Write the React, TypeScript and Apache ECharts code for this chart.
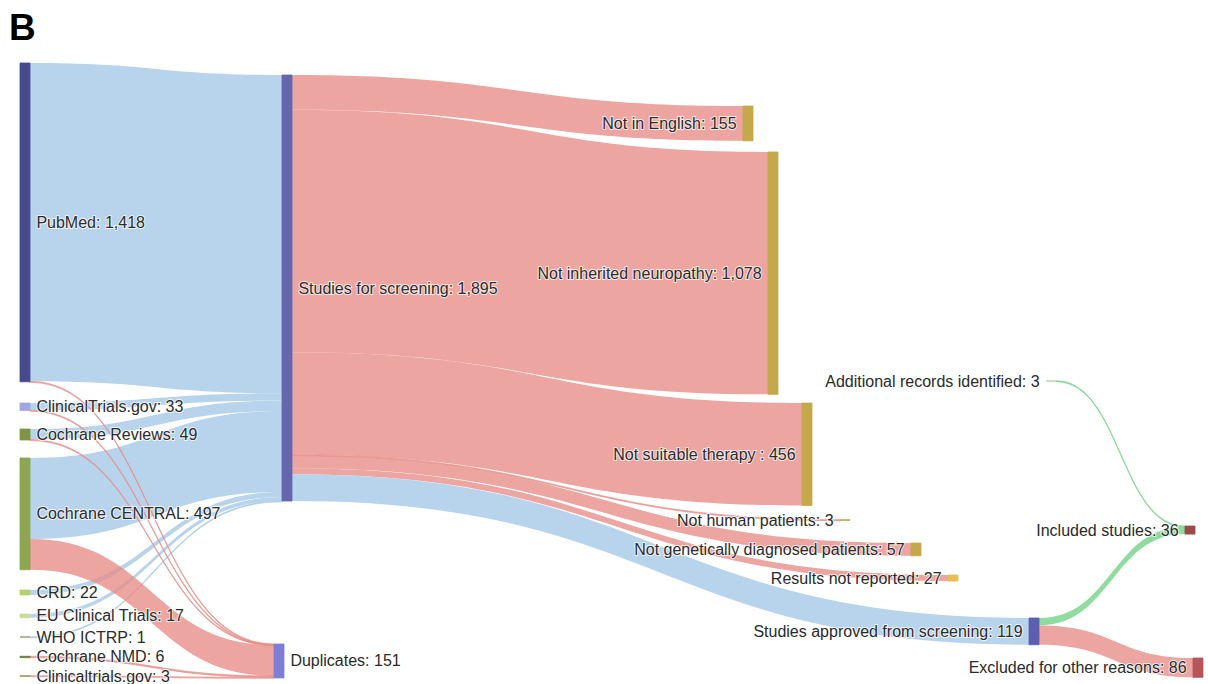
import React, { useEffect, useRef } from "react";
import * as echarts from "echarts";

// ---- data ----
const nodeNames = [
  "PubMed",
  "ClinicalTrials.gov",
  "Cochrane Reviews",
  "Cochrane CENTRAL",
  "CRD",
  "EU Clinical Trials",
  "WHO ICTRP",
  "Cochrane NMD",
  "Clinicaltrials.gov",
  "Studies for screening",
  "Duplicates",
  "Not in English",
  "Not inherited neuropathy",
  "Not suitable therapy ",
  "Not human patients",
  "Not genetically diagnosed patients",
  "Results not reported",
  "Additional records identified",
  "Studies approved from screening",
  "Included studies",
  "Excluded for other reasons",
];

const linkSources = [
  "PubMed", "ClinicalTrials.gov", "Cochrane Reviews", "Cochrane CENTRAL", "CRD", "EU Clinical Trials", "WHO ICTRP",
  "PubMed", "ClinicalTrials.gov", "Cochrane Reviews", "Cochrane CENTRAL", "Cochrane NMD", "Clinicaltrials.gov",
  "Studies for screening", "Studies for screening", "Studies for screening", "Studies for screening",
  "Studies for screening", "Studies for screening", "Studies for screening",
  "Studies approved from screening", "Studies approved from screening",
  "Additional records identified",
];
const linkTargets = [
  "Studies for screening", "Studies for screening", "Studies for screening", "Studies for screening",
  "Studies for screening", "Studies for screening", "Studies for screening",
  "Duplicates", "Duplicates", "Duplicates", "Duplicates", "Duplicates", "Duplicates",
  "Not in English", "Not inherited neuropathy", "Not suitable therapy ", "Not human patients",
  "Not genetically diagnosed patients", "Results not reported", "Studies approved from screening",
  "Included studies", "Excluded for other reasons",
  "Included studies",
];
const linkValues = [
  1416, 32, 47, 360, 22, 17, 1,
  2, 1, 2, 137, 6, 3,
  155, 1078, 456, 3, 57, 27, 119,
  33, 86,
  3,
];
const linkKinds = [
  "pass", "pass", "pass", "pass", "pass", "pass", "pass",
  "drop", "drop", "drop", "drop", "drop", "drop",
  "drop", "drop", "drop", "drop", "drop", "drop", "pass",
  "keep", "drop",
  "keep",
];

// ---- layout / style (not data) ----
const nodeLayout: Record<string, { depth: number; x: number; y: number; side: "left" | "right"; color: string }> = {
  "PubMed": { depth: 0, x: 20, y: 63, side: "right", color: "#474a8a" },
  "ClinicalTrials.gov": { depth: 0, x: 20, y: 403, side: "right", color: "#a3a5e0" },
  "Cochrane Reviews": { depth: 0, x: 20, y: 429, side: "right", color: "#7f9447" },
  "Cochrane CENTRAL": { depth: 0, x: 20, y: 458, side: "right", color: "#8ea552" },
  "CRD": { depth: 0, x: 20, y: 590, side: "right", color: "#b5cf6b" },
  "EU Clinical Trials": { depth: 0, x: 20, y: 614, side: "right", color: "#cedb9c" },
  "WHO ICTRP": { depth: 0, x: 20, y: 636.9, side: "right", color: "#a8916a" },
  "Cochrane NMD": { depth: 0, x: 20, y: 656.3, side: "right", color: "#637939" },
  "Clinicaltrials.gov": { depth: 0, x: 20, y: 675.7, side: "right", color: "#8ca252" },
  "Studies for screening": { depth: 1, x: 282, y: 75, side: "right", color: "#6466ae" },
  "Duplicates": { depth: 1, x: 274, y: 644, side: "right", color: "#7d7fd6" },
  "Not in English": { depth: 2, x: 743, y: 106, side: "left", color: "#c4a84a" },
  "Not inherited neuropathy": { depth: 2, x: 768, y: 152, side: "left", color: "#c4a84a" },
  "Not suitable therapy ": { depth: 2, x: 802, y: 403, side: "left", color: "#c4a84a" },
  "Not human patients": { depth: 2, x: 840, y: 519.7, side: "left", color: "#c4a84a" },
  "Not genetically diagnosed patients": { depth: 2, x: 911, y: 543, side: "left", color: "#c4a84a" },
  "Results not reported": { depth: 2, x: 948, y: 575, side: "left", color: "#e8bd55" },
  "Additional records identified": { depth: 2, x: 1046, y: 380.7, side: "left", color: "#b5dcb9" },
  "Studies approved from screening": { depth: 2, x: 1029, y: 618, side: "left", color: "#5c5fb0" },
  "Included studies": { depth: 3, x: 1185, y: 526, side: "left", color: "#9b4a4a" },
  "Excluded for other reasons": { depth: 3, x: 1193, y: 658, side: "left", color: "#b5565a" },
};

const kindColors: Record<string, string> = {
  pass: "#a6c9e7",
  drop: "#e78e88",
  keep: "#74d388",
};

const W = 1208;
const H = 684;

export default function App() {
  const ref = useRef<HTMLDivElement>(null);
  useEffect(() => {
    if (!ref.current) return;
    const chart = echarts.init(ref.current, undefined, { renderer: "svg" });
    const fmt = (v: number) => v.toLocaleString("en-US");
    const nodes = nodeNames.map((name) => {
      const l = nodeLayout[name];
      return {
        name,
        depth: l.depth,
        localX: l.x / W,
        localY: l.y / H,
        itemStyle: { color: l.color, borderWidth: 0.8, borderColor: l.color },
        label: { position: l.side },
      };
    });
    const links = linkSources.map((s, i) => {
      const c = kindColors[linkKinds[i]];
      const thin = linkValues[i] < 10;
      return {
        source: s,
        target: linkTargets[i],
        value: linkValues[i],
        lineStyle: thin
          ? { color: c, opacity: 0.8, borderColor: c, borderWidth: 0.8 }
          : { color: c, opacity: 0.8 },
      };
    });
    chart.setOption({
      animation: false,
      backgroundColor: "#ffffff",
      graphic: [
        {
          type: "text",
          left: 9,
          top: 9,
          style: {
            text: "B",
            fontSize: 37,
            fontWeight: "bold",
            fontFamily: "Liberation Sans, Arial, sans-serif",
            fill: "#000",
          },
        },
      ],
      series: [
        {
          type: "sankey",
          left: 0,
          top: 0,
          width: W,
          height: H,
          nodeWidth: 10,
          nodeGap: 28,
          layoutIterations: 0,
          draggable: false,
          emphasis: { disabled: true },
          data: nodes,
          links,
          lineStyle: { curveness: 0.5, opacity: 0.8 },
          itemStyle: { borderWidth: 0 },
          label: {
            fontSize: 16,
            fontFamily: "Liberation Sans, Arial, sans-serif",
            color: "#2a2a2a",
            distance: 6,
            textBorderColor: "rgba(255,255,255,0.75)",
            textBorderWidth: 2,
            formatter: (p: any) => `${p.name}: ${fmt(p.value)}`,
          },
        },
      ],
    });
    return () => chart.dispose();
  }, []);
  return <div ref={ref} style={{ position: "absolute", left: 0, top: 0, width: W, height: H }} />;
}
